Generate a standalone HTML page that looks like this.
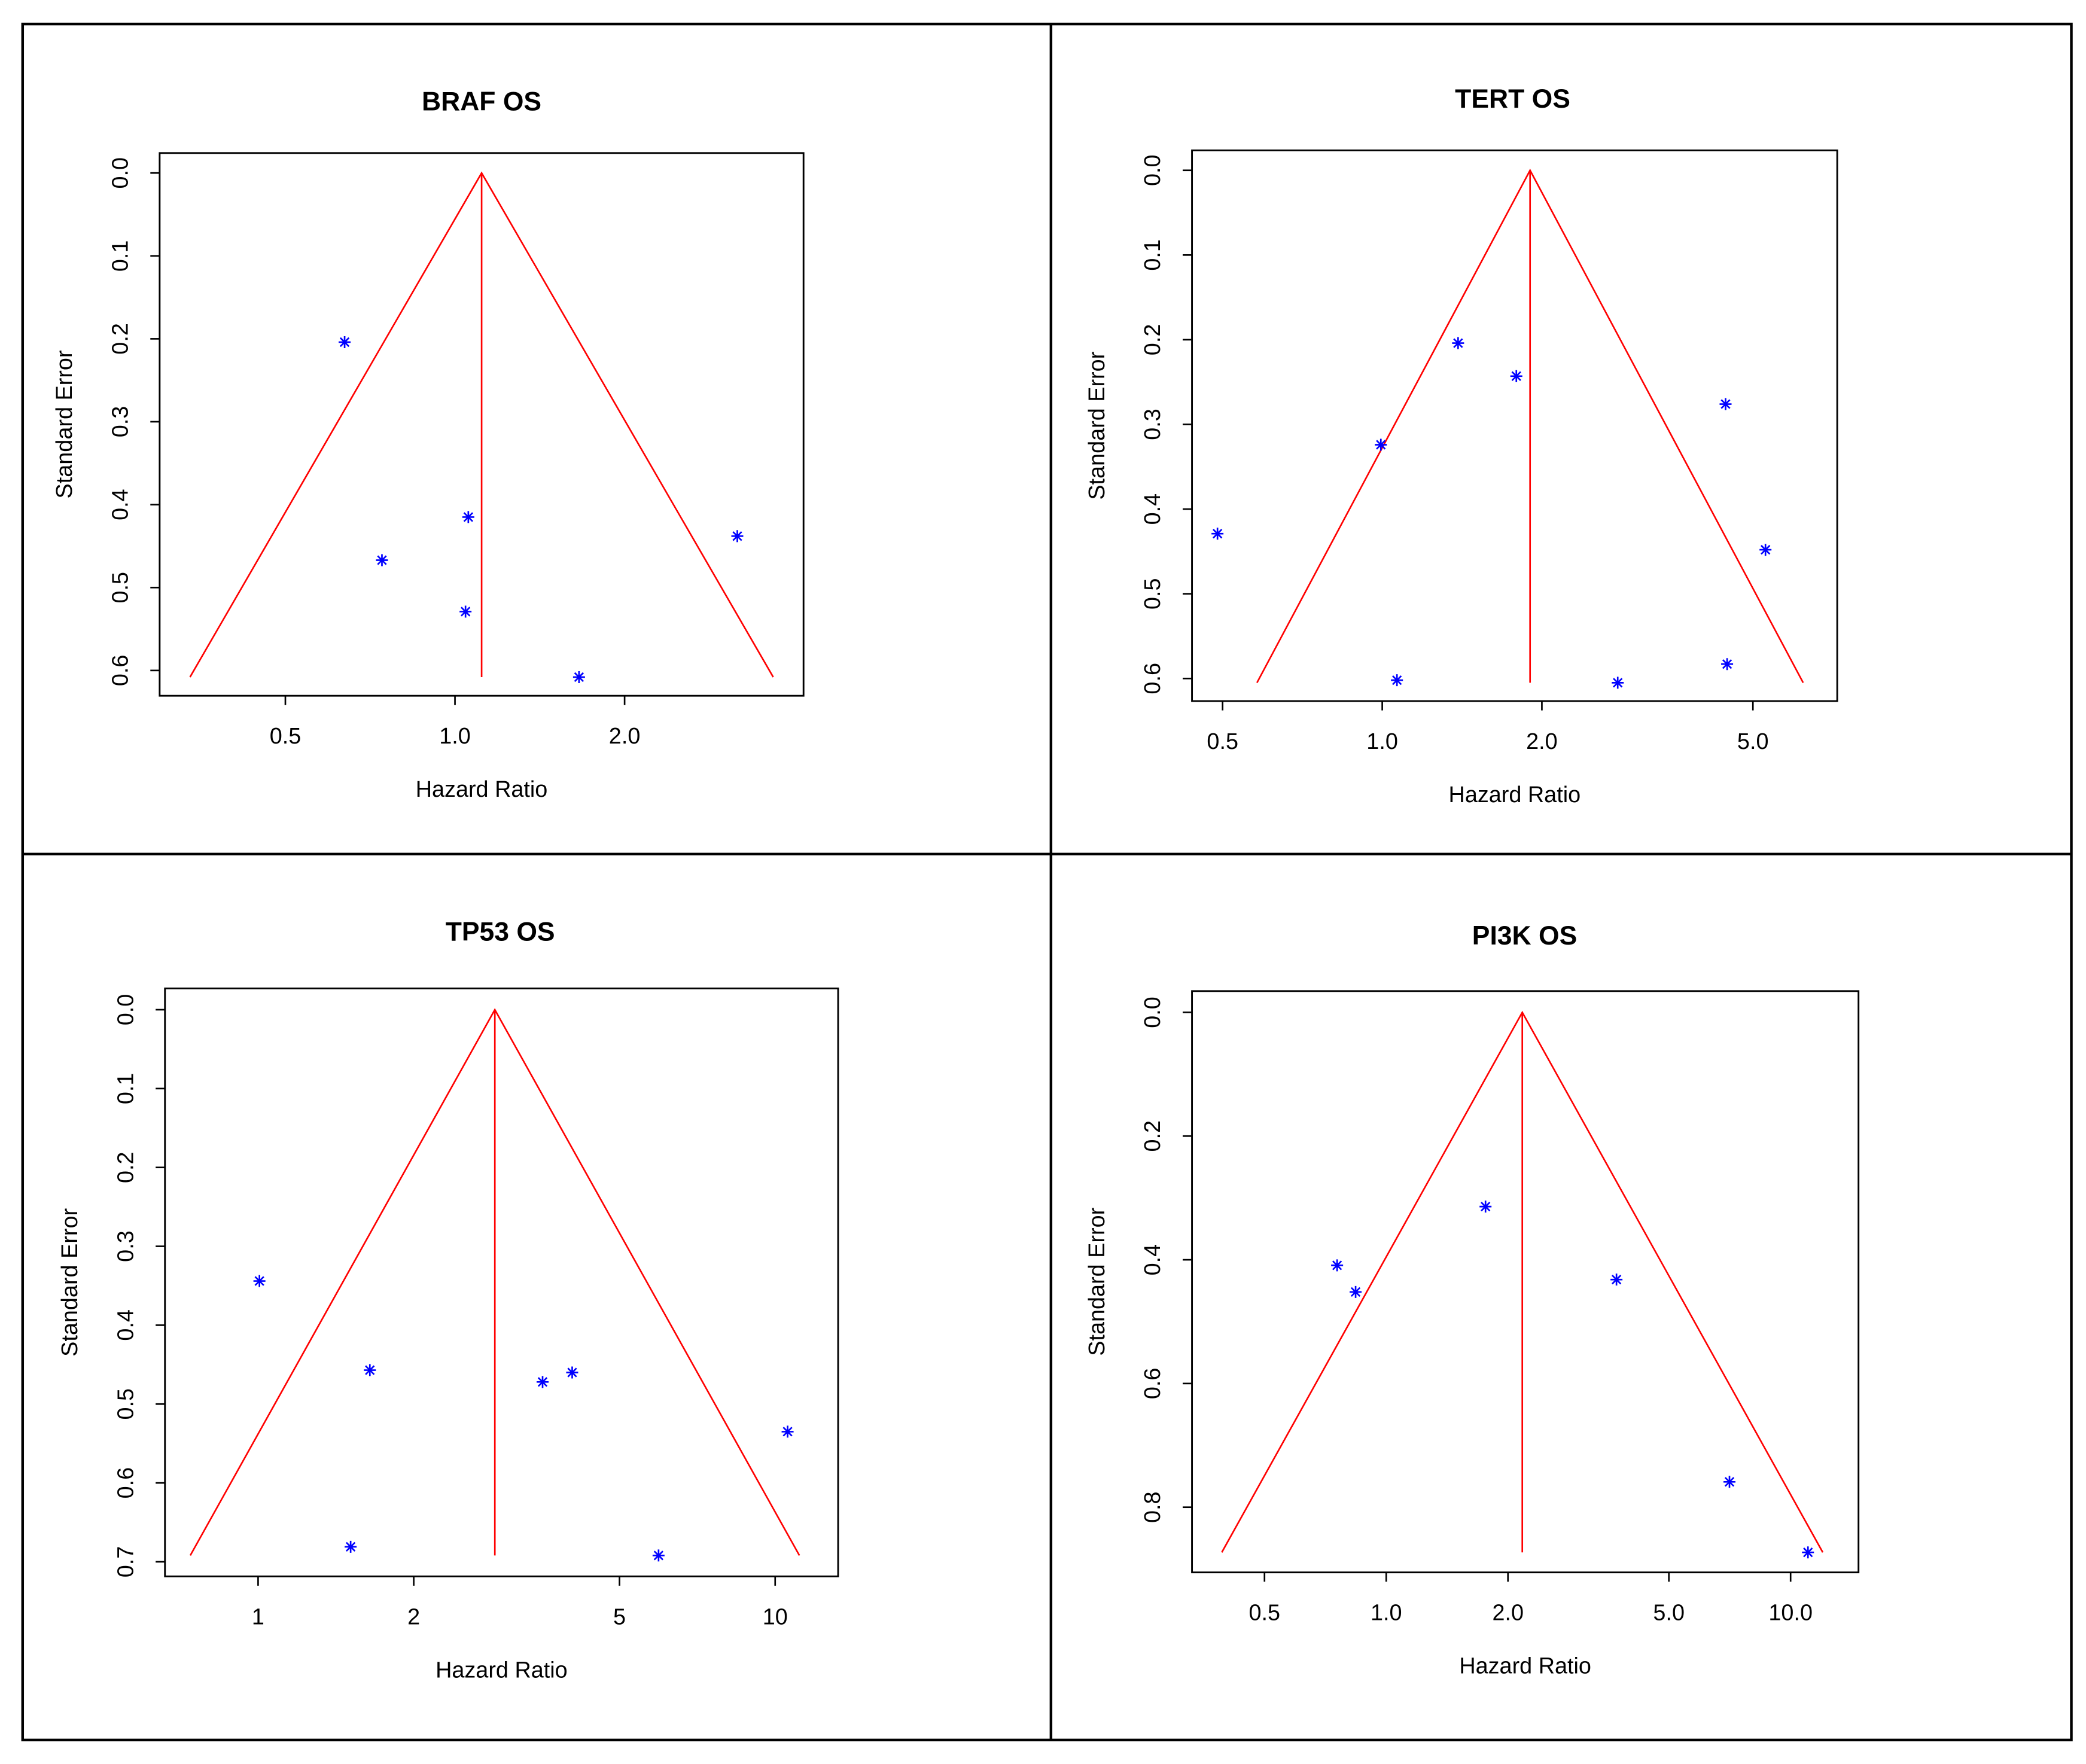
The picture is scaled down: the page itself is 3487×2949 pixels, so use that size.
<!DOCTYPE html>
<html><head><meta charset="utf-8"><style>
html,body{margin:0;padding:0;background:#fff}
svg{display:block}
text{font-family:"Liberation Sans",sans-serif;fill:#000}
</style></head><body>
<svg id="fig" xmlns="http://www.w3.org/2000/svg" width="3487" height="2949" viewBox="0 0 1568 1326">
<rect x="17" y="18" width="1540" height="1290" fill="#fff" stroke="#000" stroke-width="2"/>
<line x1="790" y1="18" x2="790" y2="1308" stroke="#000" stroke-width="2"/>
<line x1="17" y1="642" x2="1557" y2="642" stroke="#000" stroke-width="2"/>
</svg>
<script>
// ---- Data ----
const brafHR=[0.637,0.742,1.056,1.044,1.66,3.17];
const brafSE=[0.204,0.467,0.415,0.529,0.608,0.438];
const brafPooled=1.115;
const brafXTicks=[0.5,1.0,2.0];
const brafXTickLabels=["0.5","1.0","2.0"];
const brafYTicks=[0,0.1,0.2,0.3,0.4,0.5,0.6];
const brafYTickLabels=["0.0","0.1","0.2","0.3","0.4","0.5","0.6"];

const tertHR=[0.489,0.994,1.39,1.79,4.44,5.28,1.066,2.78,4.47];
const tertSE=[0.429,0.324,0.204,0.243,0.276,0.448,0.602,0.605,0.583];
const tertPooled=1.90;
const tertXTicks=[0.5,1.0,2.0,5.0];
const tertXTickLabels=["0.5","1.0","2.0","5.0"];
const tertYTicks=[0,0.1,0.2,0.3,0.4,0.5,0.6];
const tertYTickLabels=["0.0","0.1","0.2","0.3","0.4","0.5","0.6"];

const tp53HR=[1.006,1.645,1.51,3.55,4.05,5.95,10.57];
const tp53SE=[0.344,0.457,0.681,0.472,0.460,0.692,0.535];
const tp53Pooled=2.87;
const tp53XTicks=[1,2,5,10];
const tp53XTickLabels=["1","2","5","10"];
const tp53YTicks=[0,0.1,0.2,0.3,0.4,0.5,0.6,0.7];
const tp53YTickLabels=["0.0","0.1","0.2","0.3","0.4","0.5","0.6","0.7"];

const pi3kHR=[0.756,0.84,1.76,3.71,7.06,11.04];
const pi3kSE=[0.409,0.452,0.314,0.432,0.759,0.873];
const pi3kPooled=2.17;
const pi3kXTicks=[0.5,1.0,2.0,5.0,10.0];
const pi3kXTickLabels=["0.5","1.0","2.0","5.0","10.0"];
const pi3kYTicks=[0,0.2,0.4,0.6,0.8];
const pi3kYTickLabels=["0.0","0.2","0.4","0.6","0.8"];

const NS="http://www.w3.org/2000/svg";
const svg=document.getElementById('fig');
function mk(tag,attrs,parent){const e=document.createElementNS(NS,tag);for(const k in attrs)e.setAttribute(k,attrs[k]);(parent||svg).appendChild(e);return e;}

function panel(cfg){
  const g=mk('g',{});
  
  
  const xs=hr=>cfg.x1+cfg.pxPerDoubling*Math.log2(hr);
  const ys=se=>cfg.y0+cfg.pxPerUnit*se;
  const box=mk('rect',{x:cfg.bx,y:cfg.by,width:cfg.bw,height:cfg.bh,fill:'none',stroke:'#000','stroke-width':1.3},g);
  
  
  const t=mk('text',{x:cfg.tx,y:cfg.ty,'text-anchor':'middle','font-size':20,'font-weight':'bold'},g);
  t.textContent=cfg.title;
  
  
  const bottom=cfg.by+cfg.bh;
  cfg.xt.forEach((v,i)=>{
    const x=xs(v);
    mk('line',{x1:x,y1:bottom,x2:x,y2:bottom+7,stroke:'#000','stroke-width':1.2},g);
    const l=mk('text',{x:x,y:bottom+36,'text-anchor':'middle','font-size':17},g);
    l.textContent=cfg.xl[i];
    
    
  });
  cfg.yt.forEach((v,i)=>{
    const y=ys(v);
    mk('line',{x1:cfg.bx-7,y1:y,x2:cfg.bx,y2:y,stroke:'#000','stroke-width':1.2},g);
    const l=mk('text',{x:cfg.bx-24,y:y,'text-anchor':'middle','font-size':17,transform:`rotate(-90 ${cfg.bx-24} ${y})`},g);
    l.textContent=cfg.yl[i];
    
    
  });
  const xl=mk('text',{x:cfg.bx+cfg.bw/2,y:bottom+76,'text-anchor':'middle','font-size':17},g);
  xl.textContent='Hazard Ratio';
  
  
  const ylx=cfg.bx-66, yly=cfg.by+cfg.bh/2;
  const yl=mk('text',{x:ylx,y:yly,'text-anchor':'middle','font-size':17,transform:`rotate(-90 ${ylx} ${yly})`},g);
  yl.textContent='Standard Error';
  
  
  const maxSE=Math.max(...cfg.se);
  const ax=xs(cfg.pooled), ay=ys(0), by=ys(maxSE);
  const lo=cfg.pooled*Math.exp(-1.96*maxSE), hi=cfg.pooled*Math.exp(1.96*maxSE);
  const f=mk('polyline',{points:`${xs(lo)},${by} ${ax},${ay} ${xs(hi)},${by}`,fill:'none',stroke:'#ff0000','stroke-width':1.2},g);
  
  
  const vl=mk('line',{x1:ax,y1:ay,x2:ax,y2:by,stroke:'#ff0000','stroke-width':1.2},g);
  
  
  cfg.hr.forEach((h,i)=>{
    const x=xs(h), y=ys(cfg.se[i]), r=4.5, d=r*0.72;
    const p=mk('path',{d:`M${x-r},${y}H${x+r}M${x},${y-r}V${y+r}M${x-d},${y-d}L${x+d},${y+d}M${x-d},${y+d}L${x+d},${y-d}`,stroke:'#0000ff','stroke-width':1.2,fill:'none'},g);
    
    
  });
}
panel({name:'braf',title:'BRAF OS',tx:362,ty:83,bx:120,by:115,bw:484,bh:408,x1:342,pxPerDoubling:127.5,y0:130,pxPerUnit:623.3,hr:brafHR,se:brafSE,pooled:brafPooled,xt:brafXTicks,xl:brafXTickLabels,yt:brafYTicks,yl:brafYTickLabels});
panel({name:'tert',title:'TERT OS',tx:1137,ty:81,bx:896,by:113,bw:485,bh:414,x1:1039,pxPerDoubling:120,y0:128,pxPerUnit:636.7,hr:tertHR,se:tertSE,pooled:tertPooled,xt:tertXTicks,xl:tertXTickLabels,yt:tertYTicks,yl:tertYTickLabels});
panel({name:'tp53',title:'TP53 OS',tx:376,ty:707,bx:124,by:743,bw:506,bh:442,x1:194,pxPerDoubling:117,y0:759,pxPerUnit:592.9,hr:tp53HR,se:tp53SE,pooled:tp53Pooled,xt:tp53XTicks,xl:tp53XTickLabels,yt:tp53YTicks,yl:tp53YTickLabels});
panel({name:'pi3k',title:'PI3K OS',tx:1146,ty:710,bx:896,by:745,bw:501,bh:437,x1:1042,pxPerDoubling:91.5,y0:761,pxPerUnit:465,hr:pi3kHR,se:pi3kSE,pooled:pi3kPooled,xt:pi3kXTicks,xl:pi3kXTickLabels,yt:pi3kYTicks,yl:pi3kYTickLabels});
</script>
</body></html>
